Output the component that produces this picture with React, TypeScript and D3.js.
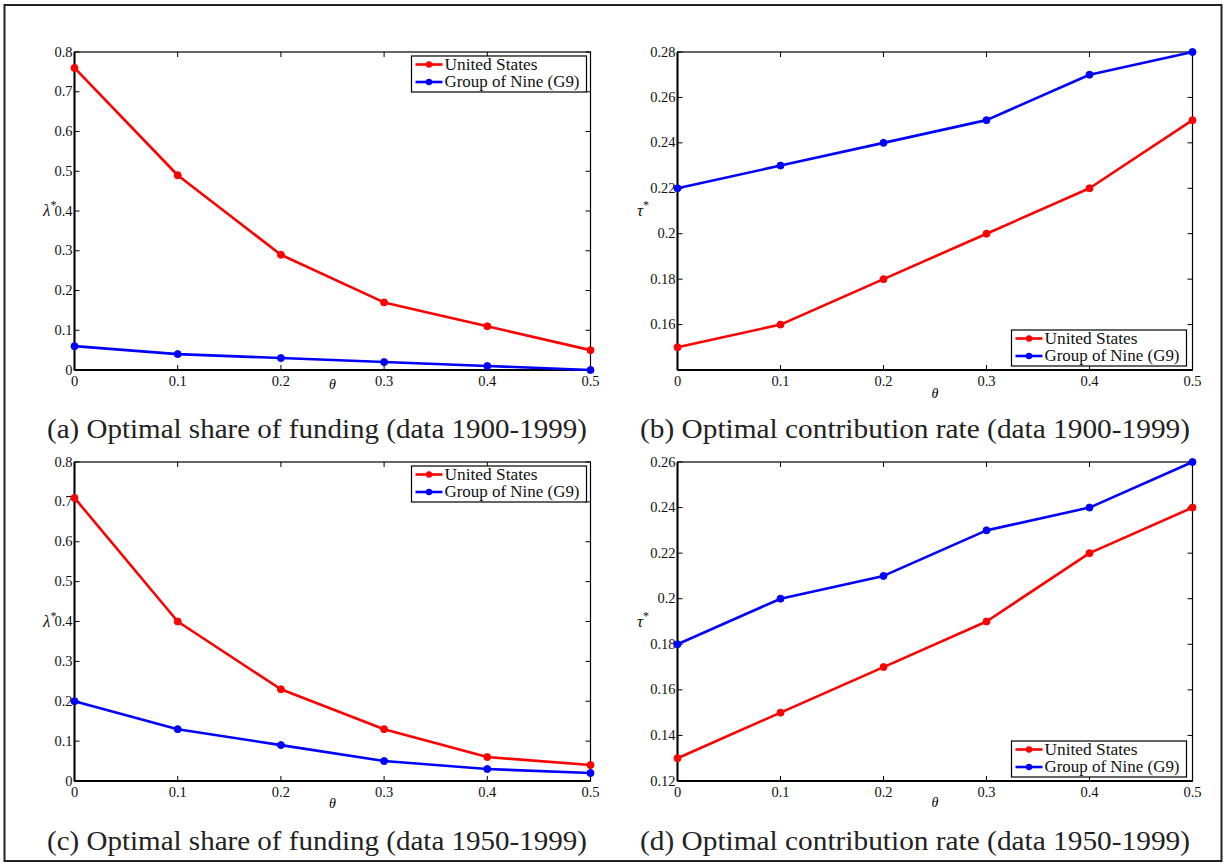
import React from "react";
import * as d3 from "d3";

const thetas = [0, 0.1, 0.2, 0.3, 0.4, 0.5];
const xTicks = [0, 0.1, 0.2, 0.3, 0.4, 0.5];

const usShare1900 = [0.76, 0.49, 0.29, 0.17, 0.11, 0.05];
const g9Share1900 = [0.06, 0.04, 0.03, 0.02, 0.01, 0.0];
const usRate1900 = [0.15, 0.16, 0.18, 0.2, 0.22, 0.25];
const g9Rate1900 = [0.22, 0.23, 0.24, 0.25, 0.27, 0.28];
const usShare1950 = [0.71, 0.4, 0.23, 0.13, 0.06, 0.04];
const g9Share1950 = [0.2, 0.13, 0.09, 0.05, 0.03, 0.02];
const usRate1950 = [0.13, 0.15, 0.17, 0.19, 0.22, 0.24];
const g9Rate1950 = [0.18, 0.2, 0.21, 0.23, 0.24, 0.26];

const shareTicks = [0, 0.1, 0.2, 0.3, 0.4, 0.5, 0.6, 0.7, 0.8];
const rateTicks1900 = [0.16, 0.18, 0.2, 0.22, 0.24, 0.26, 0.28];
const rateTicks1950 = [0.12, 0.14, 0.16, 0.18, 0.2, 0.22, 0.24, 0.26];

const seriesNames = ["United States", "Group of Nine (G9)"];
const seriesColors = ["#ff0000", "#0000ff"];

const captions = [
  "(a) Optimal share of funding (data 1900-1999)",
  "(b) Optimal contribution rate (data 1900-1999)",
  "(c) Optimal share of funding (data 1950-1999)",
  "(d) Optimal contribution rate (data 1950-1999)",
];

type Panel = {
  x0: number; x1: number; y0: number; y1: number;
  yDomain: [number, number]; yTicks: number[];
  us: number[]; g9: number[];
  yLabel: string; yLabelX: number; legend: "tr" | "br";
  caption: string; capX: number; capY: number; capW: number; thetaY: number;
};

const panels: Panel[] = [
  { x0: 74.5, x1: 590.5, y0: 52, y1: 370, yDomain: [0, 0.8], yTicks: shareTicks, us: usShare1900, g9: g9Share1900, yLabel: "λ", yLabelX: 43, legend: "tr", caption: captions[0], capX: 317, capY: 438, capW: 540, thetaY: 389 },
  { x0: 677.5, x1: 1192.5, y0: 52, y1: 370, yDomain: [0.14, 0.28], yTicks: rateTicks1900, us: usRate1900, g9: g9Rate1900, yLabel: "τ", yLabelX: 637, legend: "br", caption: captions[1], capX: 915, capY: 438, capW: 550, thetaY: 398 },
  { x0: 74.5, x1: 590.5, y0: 462, y1: 781, yDomain: [0, 0.8], yTicks: shareTicks, us: usShare1950, g9: g9Share1950, yLabel: "λ", yLabelX: 43, legend: "tr", caption: captions[2], capX: 317, capY: 850, capW: 540, thetaY: 808 },
  { x0: 677.5, x1: 1192.5, y0: 462, y1: 781, yDomain: [0.12, 0.26], yTicks: rateTicks1950, us: usRate1950, g9: g9Rate1950, yLabel: "τ", yLabelX: 637, legend: "br", caption: captions[3], capX: 915, capY: 850, capW: 550, thetaY: 807 },
];

const fmt = d3.format("~g");
const SERIF = "'Liberation Serif', 'DejaVu Serif', serif";

function PanelView({ p }: { p: Panel }) {
  const x = d3.scaleLinear().domain([0, 0.5]).range([p.x0, p.x1]);
  const y = d3.scaleLinear().domain(p.yDomain).range([p.y1, p.y0]);
  const line = d3.line<number>().x((_, i) => x(thetas[i])).y((v) => y(v));
  const tl = 5;
  const series = [p.us, p.g9];
  const lw = 175, lh = 36;
  const lx = p.legend === "tr" ? p.x1 - 4 - lw : p.x1 - 6 - lw;
  const ly = p.legend === "tr" ? p.y0 + 4 : p.y1 - 4 - lh;
  const midY = (p.y0 + p.y1) / 2;
  const legendW = [93, 135];
  return (
    <g>
      {xTicks.map((t, i) => (
        <g key={"xt" + i}>
          <line x1={x(t)} x2={x(t)} y1={p.y1} y2={p.y1 - tl} stroke="#000" strokeWidth={1} />
          <line x1={x(t)} x2={x(t)} y1={p.y0} y2={p.y0 + tl} stroke="#000" strokeWidth={1} />
          <text x={x(t)} y={p.y1 + 16} textAnchor="middle" fontSize={14.5} fontFamily={SERIF} fill="#111">{fmt(t)}</text>
        </g>
      ))}
      {p.yTicks.map((t, i) => (
        <g key={"yt" + i}>
          <line x1={p.x0} x2={p.x0 + tl} y1={y(t)} y2={y(t)} stroke="#000" strokeWidth={1} />
          <line x1={p.x1} x2={p.x1 - tl} y1={y(t)} y2={y(t)} stroke="#000" strokeWidth={1} />
          <text x={p.x0 - 2} y={y(t) + 4.5} textAnchor="end" fontSize={14.5} fontFamily={SERIF} fill="#111">{fmt(t)}</text>
        </g>
      ))}
      <rect x={p.x0} y={p.y0} width={p.x1 - p.x0} height={p.y1 - p.y0} fill="none" stroke="#000" strokeWidth={1.2} />
      <line x1={p.x0} x2={p.x0} y1={p.y0} y2={p.y1} stroke="#000" strokeWidth={2} />
      <line x1={p.x0} x2={p.x1} y1={p.y1} y2={p.y1} stroke="#000" strokeWidth={2} />
      {series.map((s, k) => (
        <g key={"s" + k}>
          <path d={line(s) || ""} fill="none" stroke={seriesColors[k]} strokeWidth={2.6} strokeLinejoin="round" />
          {s.map((v, i) => (
            <circle key={i} cx={x(thetas[i])} cy={y(v)} r={3.5} fill={seriesColors[k]} stroke={seriesColors[k]} strokeWidth={1} />
          ))}
        </g>
      ))}
      <rect x={lx} y={ly} width={lw} height={lh} fill="#fff" stroke="#000" strokeWidth={1.2} />
      {seriesNames.map((n, k) => (
        <g key={"l" + k}>
          <line x1={lx + 4} x2={lx + 31} y1={ly + 8.5 + k * 17.5} y2={ly + 8.5 + k * 17.5} stroke={seriesColors[k]} strokeWidth={2.6} />
          <circle cx={lx + 17.5} cy={ly + 8.5 + k * 17.5} r={3.2} fill={seriesColors[k]} />
          <text x={lx + 33} y={ly + 13.5 + k * 17.5} fontSize={16} fontFamily={SERIF} fill="#111" textLength={legendW[k]} lengthAdjust="spacingAndGlyphs">{n}</text>
        </g>
      ))}
      <text x={(p.x0 + p.x1) / 2} y={p.thetaY} textAnchor="middle" fontSize={14} fontStyle="italic" fontFamily={SERIF}>θ</text>
      <text x={p.yLabelX} y={midY + 5} fontSize={17} fontStyle="italic" fontFamily={SERIF} fill="#111">
        {p.yLabel}
        <tspan fontStyle="normal" fontSize={12} dy={-7}>*</tspan>
      </text>
      <text x={p.capX} y={p.capY} textAnchor="middle" fontSize={28} fontFamily={SERIF} fill="#222" textLength={p.capW} lengthAdjust="spacingAndGlyphs">{p.caption}</text>
    </g>
  );
}

export default function App() {
  return (
    <svg width={1225} height={865} style={{ position: "absolute", left: 0, top: 0, background: "#fff" }}>
      <rect x={0} y={0} width={1225} height={865} fill="#fff" />
      <rect x={4.5} y={5} width={1217} height={856} fill="none" stroke="#222" strokeWidth={2} />
      {panels.map((p, i) => <PanelView key={i} p={p} />)}
    </svg>
  );
}
